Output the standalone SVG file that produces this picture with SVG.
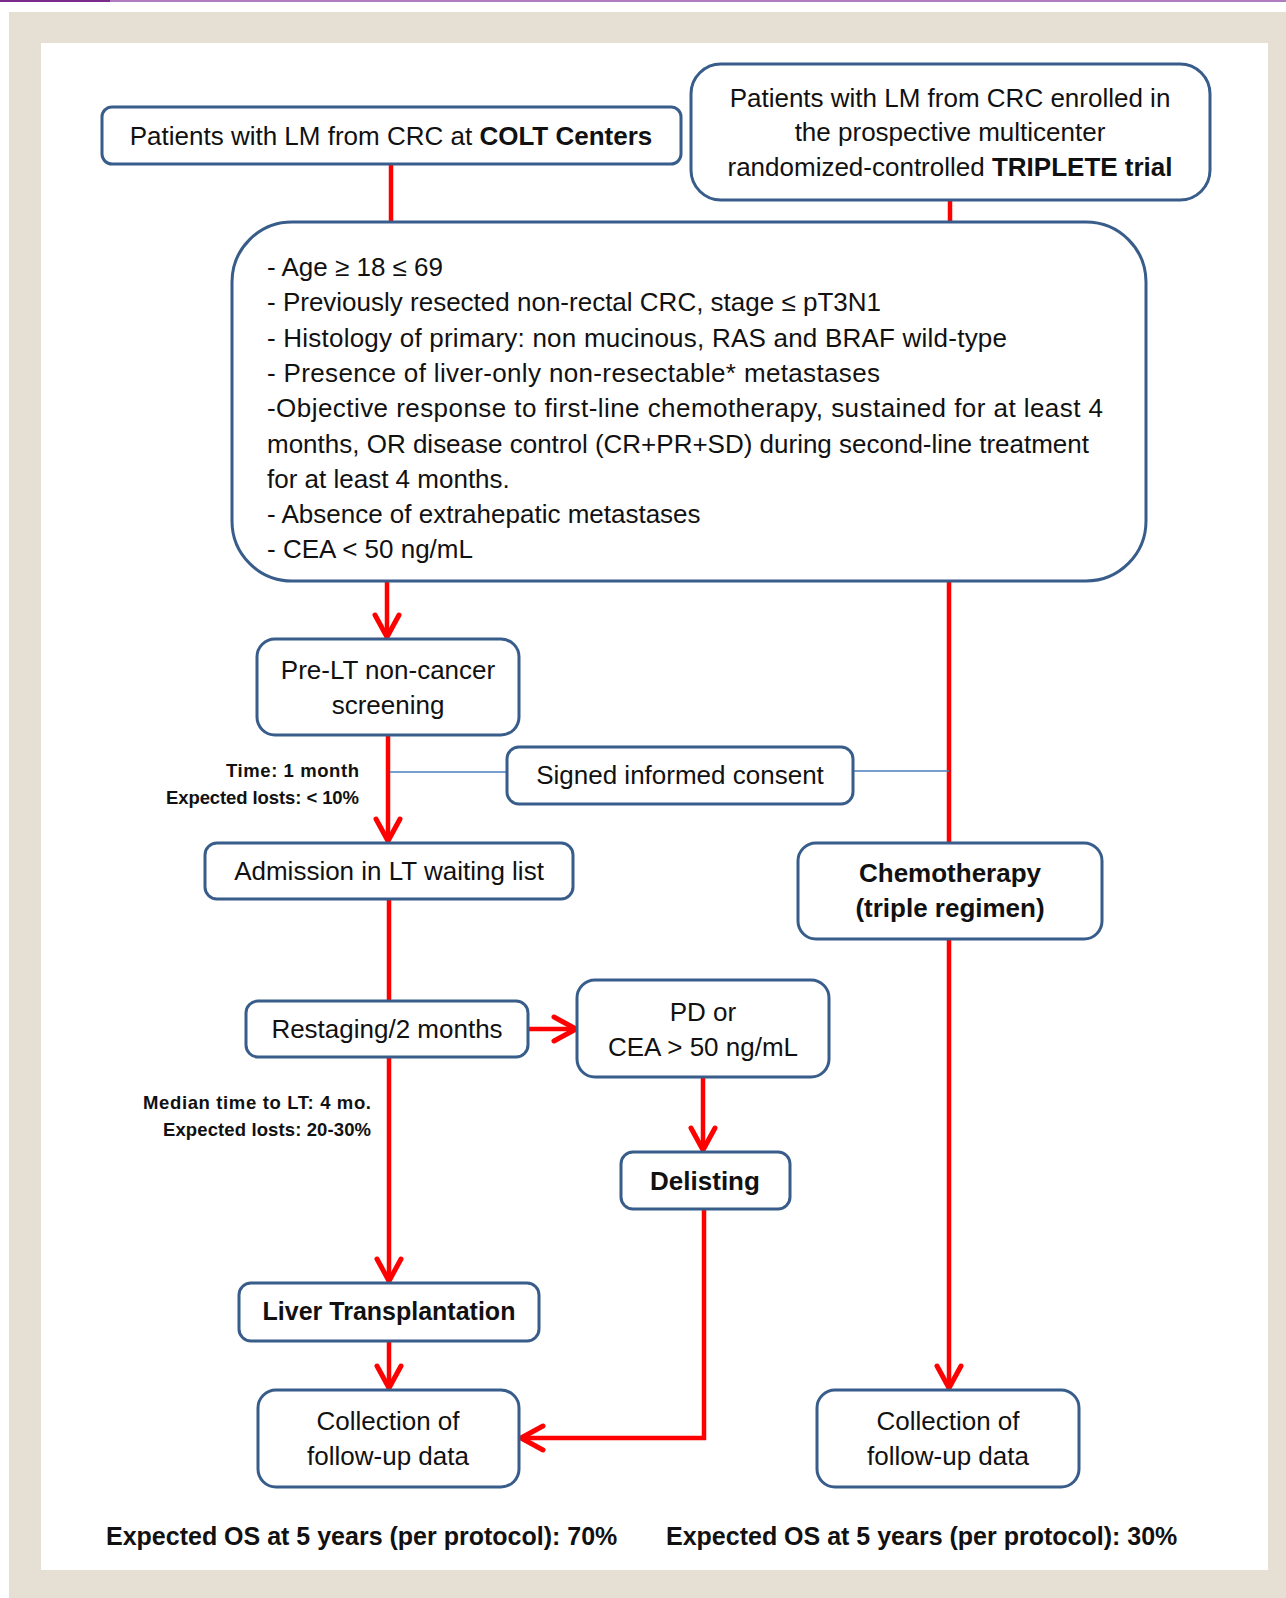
<svg xmlns="http://www.w3.org/2000/svg" width="1286" height="1598" viewBox="0 0 1286 1598">
<defs>
<style>
.box{fill:#fff;stroke:#385d8a;stroke-width:3}
.t{font-family:"Liberation Sans",Arial,sans-serif;font-size:26px;fill:#111}
.c{text-anchor:middle}
.b{font-weight:bold}
.s{font-family:"Liberation Sans",Arial,sans-serif;font-size:18.5px;font-weight:bold;fill:#111;text-anchor:end}
.os{font-family:"Liberation Sans",Arial,sans-serif;font-size:25px;font-weight:bold;fill:#111}
.red{fill:none;stroke:#ff0000;stroke-width:4.5}
.thin{fill:none;stroke:#4a7ebb;stroke-width:1.6}
</style>
<marker id="arr" markerUnits="userSpaceOnUse" markerWidth="40" markerHeight="40" viewBox="-30 -20 40 40" refX="0" refY="0" orient="auto">
<path d="M-22,-12 L0,0 L-22,12" fill="none" stroke="#ff0000" stroke-width="5" stroke-linecap="round" stroke-linejoin="round"/>
</marker>
</defs>
<rect x="0" y="0" width="1286" height="1598" fill="#fff"/>
<rect x="9" y="12" width="1277" height="1586" fill="#e6dfd3"/>
<rect x="41" y="43" width="1227" height="1527" fill="#fff"/>
<rect x="0" y="0" width="110" height="2" fill="#7a2a8a"/>
<rect x="110" y="0" width="1176" height="2" fill="#b07cc0"/>

<g id="connectors">
<path class="red" d="M391,165 V222"/>
<path class="red" d="M950,200 V222"/>
<path class="red" d="M387,581 V637" marker-end="url(#arr)"/>
<path class="red" d="M388,735 V841" marker-end="url(#arr)"/>
<path class="red" d="M389,899 V1281" marker-end="url(#arr)"/>
<path class="red" d="M528,1029 H576" marker-end="url(#arr)"/>
<path class="red" d="M703,1077 V1150" marker-end="url(#arr)"/>
<path class="red" d="M704,1210 V1438 H521" marker-end="url(#arr)"/>
<path class="red" d="M389,1341 V1388" marker-end="url(#arr)"/>
<path class="red" d="M949,581 V843"/>
<path class="red" d="M949,939 V1388" marker-end="url(#arr)"/>
<path class="thin" d="M390,772 H507"/>
<path class="thin" d="M853,771 H949"/>
</g>

<g id="node-colt">
<rect class="box" x="102" y="107" width="579" height="57" rx="10"/>
<text class="t c" x="391" y="145">Patients with LM from CRC at <tspan class="b">COLT Centers</tspan></text>
</g>

<g id="node-triplete">
<rect class="box" x="691" y="64" width="519" height="136" rx="30"/>
<text class="t c" x="950" y="107">Patients with LM from CRC enrolled in</text>
<text class="t c" x="950" y="141">the prospective multicenter</text>
<text class="t c" x="950" y="176">randomized-controlled <tspan class="b">TRIPLETE trial</tspan></text>
</g>

<g id="node-criteria">
<rect class="box" x="232" y="222" width="914" height="359" rx="60"/>
<text class="t" x="267" y="276">- Age ≥ 18 ≤ 69</text>
<text class="t" x="267" y="311">- Previously resected non-rectal CRC, stage ≤ pT3N1</text>
<text class="t" x="267" y="347" textLength="740" lengthAdjust="spacing">- Histology of primary: non mucinous,  RAS and BRAF wild-type</text>
<text class="t" x="267" y="382" textLength="613" lengthAdjust="spacing">- Presence of liver-only non-resectable*  metastases</text>
<text class="t" x="267" y="417" textLength="836" lengthAdjust="spacing">-Objective response  to first-line chemotherapy,  sustained for at least 4</text>
<text class="t" x="267" y="453" textLength="822" lengthAdjust="spacing">months, OR disease control (CR+PR+SD) during second-line treatment</text>
<text class="t" x="267" y="488">for at least 4 months.</text>
<text class="t" x="267" y="523">- Absence of extrahepatic metastases</text>
<text class="t" x="267" y="558">- CEA &lt; 50 ng/mL</text>
</g>

<g id="node-prelt">
<rect class="box" x="257" y="639" width="262" height="96" rx="18"/>
<text class="t c" x="388" y="679">Pre-LT non-cancer</text>
<text class="t c" x="388" y="714">screening</text>
</g>

<g id="node-consent">
<rect class="box" x="507" y="747" width="346" height="57" rx="12"/>
<text class="t c" x="680" y="784">Signed informed consent</text>
</g>

<g id="label-time">
<text class="s" x="359" y="777" textLength="133" lengthAdjust="spacing">Time: 1 month</text>
<text class="s" x="359" y="804" textLength="193" lengthAdjust="spacing">Expected losts: &lt; 10%</text>
</g>

<g id="node-admission">
<rect class="box" x="205" y="843" width="368" height="56" rx="12"/>
<text class="t c" x="389" y="880">Admission in LT waiting list</text>
</g>

<g id="node-chemo">
<rect class="box" x="798" y="843" width="304" height="96" rx="18"/>
<text class="t c b" x="950" y="882">Chemotherapy</text>
<text class="t c b" x="950" y="917">(triple regimen)</text>
</g>

<g id="node-restaging">
<rect class="box" x="246" y="1001" width="282" height="56" rx="12"/>
<text class="t c" x="387" y="1038">Restaging/2 months</text>
</g>

<g id="node-pd">
<rect class="box" x="577" y="980" width="252" height="97" rx="18"/>
<text class="t c" x="703" y="1021">PD or</text>
<text class="t c" x="703" y="1056">CEA &gt; 50 ng/mL</text>
</g>

<g id="label-median">
<text class="s" x="371" y="1109" textLength="228" lengthAdjust="spacing">Median time to LT: 4 mo.</text>
<text class="s" x="371" y="1136" textLength="208" lengthAdjust="spacing">Expected losts: 20-30%</text>
</g>

<g id="node-delisting">
<rect class="box" x="621" y="1152" width="169" height="57" rx="12"/>
<text class="t c b" x="705" y="1190">Delisting</text>
</g>

<g id="node-lt">
<rect class="box" x="239" y="1283" width="300" height="58" rx="12"/>
<text class="t c b" x="389" y="1320" style="font-size:25px">Liver Transplantation</text>
</g>

<g id="node-collect-left">
<rect class="box" x="258" y="1390" width="261" height="97" rx="18"/>
<text class="t c" x="388" y="1430">Collection of</text>
<text class="t c" x="388" y="1465">follow-up data</text>
</g>

<g id="node-collect-right">
<rect class="box" x="817" y="1390" width="262" height="97" rx="18"/>
<text class="t c" x="948" y="1430">Collection of</text>
<text class="t c" x="948" y="1465">follow-up data</text>
</g>

<g id="bottom-labels">
<text class="os" x="106" y="1545">Expected OS at 5 years (per protocol): 70%</text>
<text class="os" x="666" y="1545">Expected OS at 5 years (per protocol): 30%</text>
</g>
</svg>
